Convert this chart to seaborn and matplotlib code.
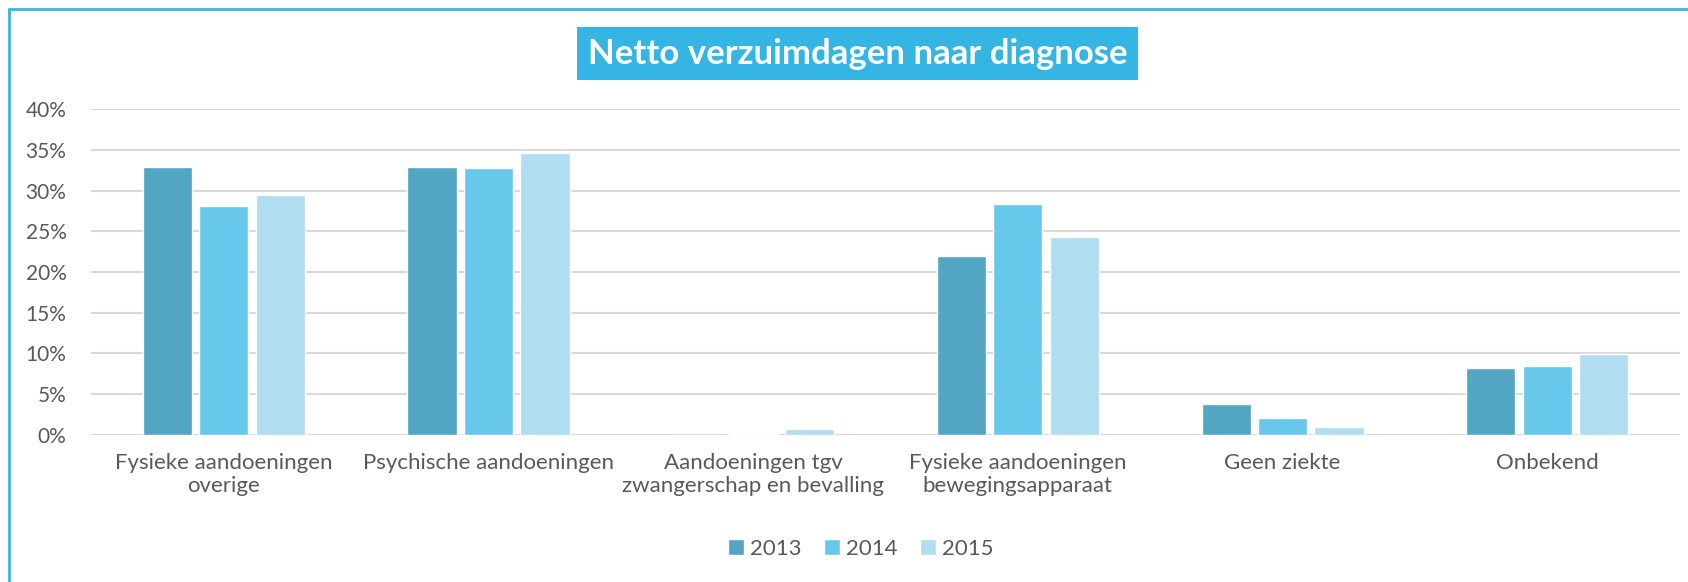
import pandas as pd
import seaborn as sns
import matplotlib.pyplot as plt
from matplotlib.lines import Line2D
from matplotlib.ticker import PercentFormatter

# data (percent of net absence days)
categories = ['Fysieke aandoeningen\noverige', 'Psychische aandoeningen',
              'Aandoeningen tgv\nzwangerschap en bevalling',
              'Fysieke aandoeningen\nbewegingsapparaat', 'Geen ziekte', 'Onbekend']
years = ['2013', '2014', '2015']
v2013 = [32.9, 32.9, 0.03, 22.0, 3.8, 8.2]
v2014 = [28.1, 32.7, 0.15, 28.4, 2.1, 8.5]
v2015 = [29.4, 34.6, 0.7, 24.3, 0.95, 9.9]
colors = ['#53A5C4', '#67C8EB', '#B1DDF1']

df = pd.DataFrame({'diagnose': categories * 3,
                   'jaar': [y for y in years for _ in categories],
                   'pct': v2013 + v2014 + v2015})

sns.set_style('white')
plt.rcParams['font.family'] = ['Lato', 'DejaVu Sans']
grey = '#595959'

fig = plt.figure(figsize=(16.88, 5.82), dpi=100)
ax = fig.add_axes([0.0542, 0.2526, 0.9408, 0.5601])

sns.barplot(data=df, x='diagnose', y='pct', hue='jaar', palette=colors,
            saturation=1, width=0.64, gap=0.13, ax=ax, legend=True)

ax.set_ylim(0, 40)
ax.set_yticks(range(0, 41, 5))
ax.yaxis.set_major_formatter(PercentFormatter(decimals=0))
ax.grid(axis='y', color='#D9D9D9', linewidth=1.5)
ax.set_axisbelow(True)
for s in ax.spines.values():
    s.set_visible(False)
ax.set_xlabel('')
ax.set_ylabel('')
ax.tick_params(axis='y', labelsize=15, colors=grey, pad=18, length=0)
ax.tick_params(axis='x', labelsize=16, colors=grey, pad=13, length=0)
ax.set_xlim(-0.5, 5.5)

ax.legend(loc='center', bbox_to_anchor=(0.51, 0.057), bbox_transform=fig.transFigure,
          ncol=3, frameon=False, fontsize=16, labelcolor=grey,
          handlelength=0.7, handleheight=0.7, handletextpad=0.3, columnspacing=1.0)

fig.text(0.508, 0.908, 'Netto verzuimdagen naar diagnose', ha='center', va='center',
         fontsize=25, fontweight='bold', color='white',
         bbox=dict(boxstyle='square,pad=0.3', facecolor='#35B5E3', edgecolor='none'))

# chart frame (left and top edge visible)
fig.add_artist(Line2D([0.0053, 0.0053], [0, 0.985], color='#35B5E3', linewidth=2,
                      transform=fig.transFigure))
fig.add_artist(Line2D([0.0053, 1.0], [0.985, 0.985], color='#35B5E3', linewidth=2,
                      transform=fig.transFigure))

fig.savefig('out.png', dpi=100, facecolor='white')
